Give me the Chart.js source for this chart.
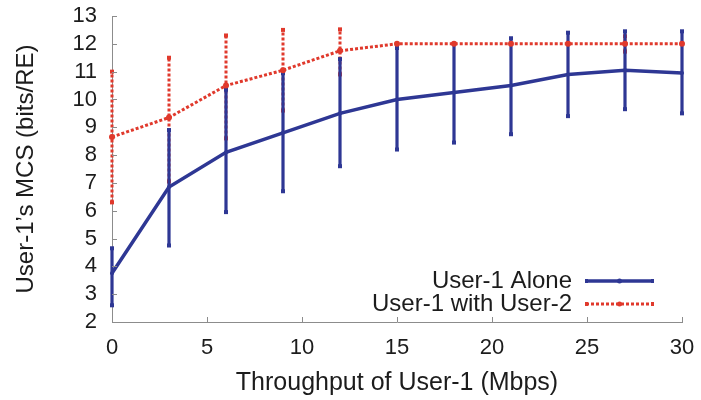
<!DOCTYPE html>
<html>
<head>
<meta charset="utf-8">
<script src="https://cdn.jsdelivr.net/npm/chart.js@4/dist/chart.umd.min.js"></script>
<style>
  html, body { margin: 0; padding: 0; background: #ffffff; }
  #wrap { width: 701px; height: 400px; position: relative; }
  #chart { display: block; }
</style>
</head>
<body>
<div id="wrap"><canvas id="chart" width="701" height="400"></canvas></div>
<script>
// Throughput of User-1 (Mbps)
const throughput = [0, 3, 6, 9, 12, 15, 18, 21, 24, 27, 30];

// User-1 alone: mean MCS and error range
const aloneMean = [3.75, 6.85, 8.1, 8.8, 9.5, 10.0, 10.25, 10.5, 10.9, 11.05, 10.95];
const aloneLow  = [2.6, 4.75, 5.95, 6.7, 7.6, 8.2, 8.45, 8.75, 9.4, 9.65, 9.5];
const aloneHigh = [4.65, 8.9, 10.35, 10.95, 11.45, 11.85, 12.0, 12.2, 12.4, 12.45, 12.45];

// User-1 with User-2: mean MCS and error range
const sharedMean = [8.65, 9.35, 10.5, 11.05, 11.75, 12.0, 12.0, 12.0, 12.0, 12.0, 12.0];
const sharedLow  = [6.3, 7.05, 8.6, 9.6, 10.9, 12.0, 12.0, 12.0, 12.0, 11.72, 12.0];
const sharedHigh = [11.0, 11.5, 12.3, 12.5, 12.52, 12.0, 12.0, 12.0, 12.0, 12.27, 12.0];

// Axis tick labels
const xTicks = [0, 5, 10, 15, 20, 25, 30];
const yTicks = [2, 3, 4, 5, 6, 7, 8, 9, 10, 11, 12, 13];

const BLUE = '#2e3794';
const RED = '#e0392c';
const FONT = "'Liberation Sans', Arial, Helvetica, sans-serif";
const TEXT = '#1c1c1c';
const AXIS = '#8c8c8c';

function points(xs, ys) {
  return xs.map((x, i) => ({ x: x, y: ys[i] }));
}

// Vertical error bars, drawn through the chart's own scales
const errorBars = {
  id: 'errorBars',
  beforeDatasetsDraw(chart) {
    const { ctx, scales: { x, y } } = chart;
    const sets = [
      { low: sharedLow, high: sharedHigh, color: RED, dash: [3, 2], width: 3 },
      { low: aloneLow, high: aloneHigh, color: BLUE, dash: [], width: 3.2 }
    ];
    ctx.save();
    sets.forEach(s => {
      throughput.forEach((t, i) => {
        if (s.high[i] - s.low[i] < 0.01) return;
        const px = x.getPixelForValue(t);
        const y1 = y.getPixelForValue(s.low[i]);
        const y2 = y.getPixelForValue(s.high[i]);
        ctx.strokeStyle = s.color;
        ctx.lineWidth = s.width;
        ctx.setLineDash(s.dash);
        ctx.beginPath();
        ctx.moveTo(px, y1);
        ctx.lineTo(px, y2);
        ctx.stroke();
        ctx.setLineDash([]);
        ctx.fillStyle = s.color;
        ctx.fillRect(px - 2, y1 - 2, 4, 4);
        ctx.fillRect(px - 2, y2 - 2, 4, 4);
      });
    });
    ctx.restore();
  }
};

// Inward tick marks on both axes
const innerTicks = {
  id: 'innerTicks',
  afterDraw(chart) {
    const { ctx, chartArea, scales: { x, y } } = chart;
    ctx.save();
    ctx.strokeStyle = AXIS;
    ctx.lineWidth = 1;
    ctx.beginPath();
    yTicks.forEach(v => {
      const py = Math.round(y.getPixelForValue(v)) + 0.5;
      ctx.moveTo(chartArea.left, py);
      ctx.lineTo(chartArea.left + 5, py);
    });
    xTicks.forEach(v => {
      const px = Math.round(x.getPixelForValue(v)) + 0.5;
      ctx.moveTo(px, chartArea.bottom);
      ctx.lineTo(px, chartArea.bottom - 5);
    });
    ctx.stroke();
    ctx.restore();
  }
};

// Legend inside the plot, text right-aligned with the line sample on the right
const insideLegend = {
  id: 'insideLegend',
  afterDraw(chart) {
    const { ctx } = chart;
    const items = [
      { label: 'User-1 Alone', color: BLUE, dash: [], width: 3.5, y: 281 },
      { label: 'User-1 with User-2', color: RED, dash: [3, 2], width: 3, y: 304 }
    ];
    const textRight = 572, lineStart = 586, lineEnd = 653;
    ctx.save();
    ctx.font = '24px ' + FONT;
    ctx.textAlign = 'right';
    ctx.textBaseline = 'middle';
    items.forEach(it => {
      ctx.fillStyle = TEXT;
      ctx.fillText(it.label, textRight, it.y);
      ctx.strokeStyle = it.color;
      ctx.lineWidth = it.width;
      ctx.setLineDash(it.dash);
      ctx.beginPath();
      ctx.moveTo(lineStart, it.y);
      ctx.lineTo(lineEnd, it.y);
      ctx.stroke();
      ctx.setLineDash([]);
      ctx.fillStyle = it.color;
      ctx.fillRect(lineStart - 1, it.y - 2, 3, 4);
      ctx.fillRect(lineEnd - 2, it.y - 2, 3, 4);
      ctx.beginPath();
      ctx.arc((lineStart + lineEnd) / 2, it.y, 2.5, 0, Math.PI * 2);
      ctx.fill();
    });
    ctx.restore();
  }
};

new Chart(document.getElementById('chart'), {
  type: 'line',
  data: {
    datasets: [
      {
        label: 'User-1 Alone',
        data: points(throughput, aloneMean),
        borderColor: BLUE,
        backgroundColor: BLUE,
        borderWidth: 3.5,
        pointRadius: 2,
        pointBorderWidth: 0,
        tension: 0,
        clip: false
      },
      {
        label: 'User-1 with User-2',
        data: points(throughput, sharedMean),
        borderColor: RED,
        backgroundColor: RED,
        borderWidth: 3,
        borderDash: [3, 2],
        pointRadius: 3,
        pointBorderWidth: 0,
        tension: 0,
        clip: false
      }
    ]
  },
  options: {
    responsive: false,
    animation: false,
    devicePixelRatio: 1,
    layout: { padding: { top: 16, right: 19, left: 0, bottom: 0 } },
    plugins: {
      legend: { display: false },
      tooltip: { enabled: false }
    },
    scales: {
      x: {
        type: 'linear',
        min: 0,
        max: 30,
        afterBuildTicks: s => { s.ticks = xTicks.map(v => ({ value: v })); },
        afterFit: s => { s.height = 78; s.paddingLeft = 0; s.paddingRight = 0; },
        grid: { display: false, drawTicks: false },
        border: { display: true, color: AXIS, width: 1 },
        ticks: { padding: 13, autoSkip: false, color: TEXT, font: { family: FONT, size: 22 }, maxRotation: 0 },
        title: {
          display: true,
          text: 'Throughput of User-1 (Mbps)',
          color: TEXT,
          font: { family: FONT, size: 25 },
          padding: { top: 0, bottom: 2 }
        }
      },
      y: {
        type: 'linear',
        min: 2,
        max: 13,
        afterBuildTicks: s => { s.ticks = yTicks.map(v => ({ value: v })); },
        afterFit: s => { s.width = 112; s.paddingTop = 0; s.paddingBottom = 0; },
        grid: { display: false, drawTicks: false },
        border: { display: true, color: AXIS, width: 1 },
        ticks: { padding: 15, autoSkip: false, color: TEXT, font: { family: FONT, size: 22 } },
        title: {
          display: true,
          text: 'User-1\u2019s MCS (bits/RE)',
          color: TEXT,
          font: { family: FONT, size: 24 },
          padding: { top: 12, bottom: 0 }
        }
      }
    }
  },
  plugins: [errorBars, innerTicks, insideLegend]
});
</script>
</body>
</html>
